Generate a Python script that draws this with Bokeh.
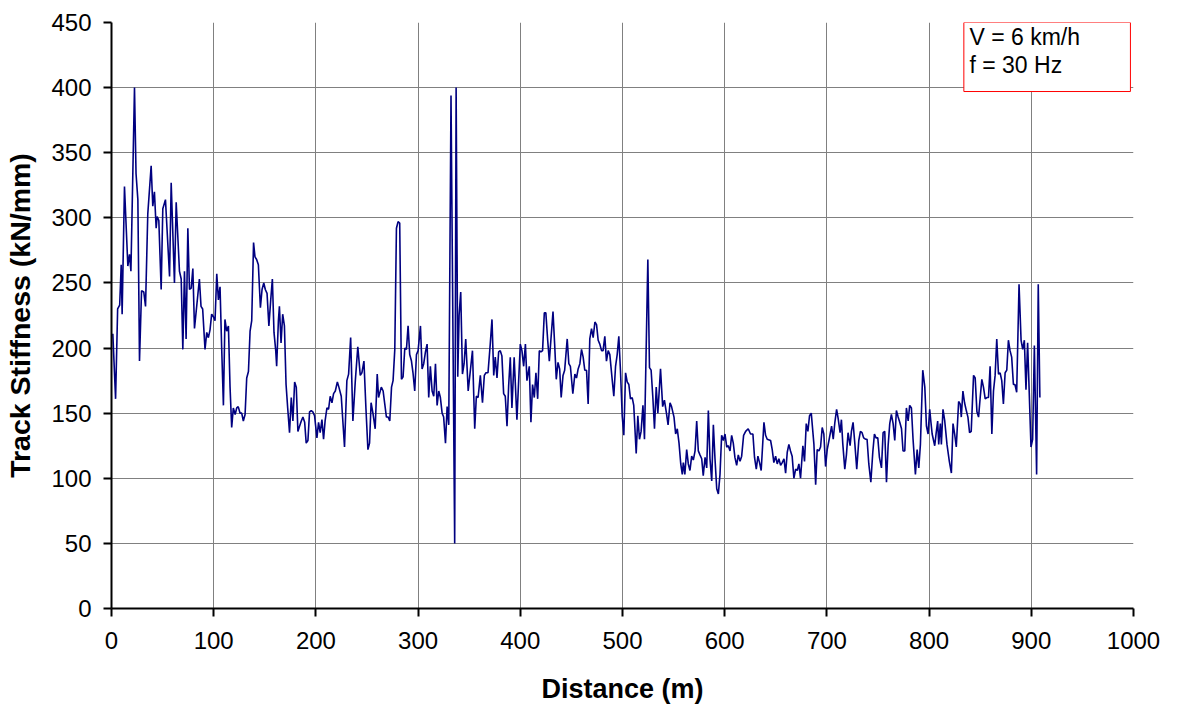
from bokeh.plotting import figure
from bokeh.models import Range1d, FixedTicker, BoxAnnotation, Label
from bokeh.embed import file_html
from bokeh.resources import INLINE

# Distance along track (m)
distance = [
    1.3, 4, 6, 8, 9.5, 10.4, 12.7, 16, 17.6, 19, 22.5, 24, 25.8, 27.4, 29.4, 31.6, 33.3, 35.5, 38.8, 40.4,
    42, 43.7, 44.7, 46.3, 48.6, 50.2, 52.8, 56.8, 58.4, 61.6, 63.3, 66.5, 68.2, 69.8, 71.4, 73, 74.7, 76.3,
    78, 79.6, 81.2, 86,
    87.6, 89.2, 91.5, 93.2, 94.8, 96.4, 98, 99.7, 101.3, 103, 104.6, 106.2, 107.8, 109.5, 111, 112.7, 114.4,
    116, 117.6, 119.2, 121, 122.5, 124, 125.8, 127.4, 129, 130.7, 132.3, 134, 135.6, 137.2, 139, 140.4, 142,
    143.7, 145.7, 147.3, 149, 150.5, 152.2, 154, 155.8, 157.4, 159, 160.7, 161.6, 163.3, 164.3, 165.9, 167.5,
    169.2, 170.8, 172.4,
    174.2, 175.9, 177.5, 179.2, 180.8, 182.4, 184, 185.7, 187.3, 189, 190.5, 192.2, 193.8, 195.4, 197, 198.7,
    201, 202.6, 204.2, 205.9, 207.5, 209, 210.8, 212.4, 214, 215.7, 217.3, 219, 221, 222.5, 224.8, 228, 230.3,
    232, 234, 236.2, 238.5, 241, 243.4, 245, 247, 249, 250.9, 252.5, 254, 255.8, 258, 260, 261.3,
    264, 265.8, 267.4, 269, 270.7, 272.3, 274, 275.5, 277.2, 278.8, 280.4, 282, 283.7, 285.3, 287, 288.6,
    290.2, 291.8, 293.5, 295, 296.7, 298.4, 300, 302.3, 303.9, 305.5, 307.2, 308.8, 310.4, 312, 313.7, 315.3,
    317, 318.6, 320.2, 321.8, 323.5, 325, 326.8, 328.4, 330, 332.2, 335.8, 337.2, 338.8, 340.1, 341.7, 343.4,
    345, 346.6, 349, 350.5, 353.2, 355.4, 357, 358.7,
    360.9, 363, 364.8, 366.4, 368.4, 370.6, 372.3, 374, 375.5, 377.2, 378.8, 380.4, 382, 383.7, 385.3, 387,
    388.6, 390.2, 391.8, 394, 396.7, 398.4, 400, 401.6, 403.3, 405, 406.5, 408.8, 410.4, 412, 413.7, 415.3,
    417, 418.6, 420.2, 421.8, 423.5, 425, 426.8, 428.4, 430, 432, 433.6, 435.2, 436.9, 438.5, 440, 441.8,
    443.4,
    445.9, 447.5, 449, 451.4, 453.4, 455, 456.6, 458.3, 459.9, 461.5, 463.1, 464.8, 466.4, 468, 469.7, 471.3,
    473, 474.6, 476.2, 477.8, 479.5, 481, 482.7, 484.3, 486, 487.6, 490, 491.5, 493.2, 494.8, 496.4, 498,
    499.7, 501.3, 503, 504.6, 506.2, 507.8, 509.5, 511, 513.4, 515, 516.6, 518.2, 520, 521.5, 524.8, 526.4,
    528, 529.7, 531.3, 533, 534.6, 537.2,
    539.3, 541, 543, 544.6, 546.5, 548, 550.4, 552, 553.6, 555.3, 557, 558.5, 559.5, 561, 562.8, 564.4, 566,
    567.7, 569.3, 571, 572.6, 574.2, 575.8, 577.5, 579, 580.8, 582.4, 584, 585.6, 587.3, 588.9, 590.5, 592.2,
    593.8, 595.4, 597, 598.7, 600.3, 602, 603.5, 605.2, 606.8, 608.4, 610, 611.7, 613.3, 615,
    616.6, 618.5, 620.5, 623, 625.3, 627.6, 629.2, 630.9, 632.5, 634.1, 635.7, 638.4, 640, 641.6, 644.9,
    646.5, 648.1, 649.8, 651.4, 653, 654.7, 656.3, 658, 659.6, 661.2, 662.8, 664.4, 666, 667.7, 669.4, 671,
    672.6, 674.2, 676.5, 678.1, 679.8, 681.4, 683, 684.7, 687.3, 689, 690.5, 692.2, 693.8, 695.4, 697, 698.7,
    700.3, 702, 704.6, 706.2, 707.8, 709.5,
    711, 712.9, 714.2, 715.5, 717.5, 719.1, 720.7, 722.7, 724, 725.6, 727.3, 729.2, 731.2, 732.8, 734.4, 736,
    737.7, 739.3, 741, 743, 744.9, 746.5, 748.1, 749.8, 751.4, 753.4, 755, 756.6, 758.3, 759.9, 761.5, 763.1,
    764.8, 766.4, 768, 769.7, 771.3, 773, 774.5, 776.2, 777.8, 779.5, 781, 782.7, 784.3, 786.6, 788.3, 789.9,
    791.5, 793.8, 795.8, 797.4, 799,
    800.6, 801.8, 803, 805.5, 807.1, 808.4, 809.4, 811, 812, 813.6, 815.3, 817.5, 819.8, 821.8, 823.4, 825,
    826.6, 828.9, 830.5, 831.5, 833.1, 834.7, 836.4, 838, 839.6, 841.2, 843.5, 845.1, 846.8, 848.4, 850,
    851.6, 853.2, 854.9, 856.5, 858.1, 859.7, 861.4, 863, 864.6, 866.2, 867.9, 869.5, 871.1, 872.7, 874.4,
    876, 877.6, 879.2, 880.8, 882.5, 884, 885.7, 888, 890, 891.6, 893.2, 894.8, 896.4, 899.7, 901.3, 903,
    905.2, 906.8, 908.4,
]

# Track stiffness (kN/mm)
stiffness = [
    211, 161, 230, 233, 264, 226, 324, 263, 272, 259, 400, 334, 314, 190, 244, 243, 232, 303, 340, 309,
    320, 292, 301, 298, 245, 307, 314, 255, 327, 250, 312, 259, 253, 199, 259, 207, 292, 245,
    246, 261, 215, 253,
    232, 230, 199, 212, 208, 214, 226, 224, 221, 257, 237, 247, 200, 156, 222, 213, 217,
    170, 139, 154, 149, 154, 155, 150, 150, 144, 149, 177, 182, 213, 221, 281, 270, 268,
    264, 231, 245, 250, 245, 242, 217, 237, 253, 212, 198, 186, 221, 232, 204, 226,
    217, 172, 154,
    135, 162, 144, 174, 170, 136, 140, 144, 147, 143, 127, 129, 151, 152, 151, 148,
    131, 143, 135, 145, 130, 144, 154, 153, 163, 158, 165, 167, 174, 170, 163, 124, 175,
    180, 208, 144, 174, 201, 179, 181, 190, 153, 122, 127, 158, 150, 138, 180, 162,
    170, 167, 157, 147, 147, 144, 170, 175, 199, 292, 297, 296, 176, 178, 200, 199,
    217, 195, 190, 181, 167, 195, 198, 217, 184, 188, 197, 203, 162, 186, 167, 163,
    188, 156, 167, 162, 150, 147, 127, 155, 141, 394, 50, 400, 178, 225, 243, 180,
    188, 207, 167, 178, 198, 138, 163, 162,
    179, 158, 179, 181, 181, 203, 222, 179, 193, 177, 197, 198, 194, 165, 163, 140,
    171, 193, 154, 193, 145, 175, 203, 198, 186, 203, 175, 186, 143, 172, 162, 181,
    161, 198, 197, 198, 227, 227, 206, 190, 207, 228, 203, 176, 189, 184, 162, 179,
    183,
    207, 188, 186, 165, 180, 177, 184, 188, 199, 193, 183, 183, 157, 207, 215, 208,
    220, 218, 206, 203, 198, 198, 209, 190, 198, 195, 175, 163, 186, 195, 209, 183,
    148, 133, 181, 174, 172, 161, 162, 156, 119, 148, 130, 136, 156, 130, 268, 185,
    183, 162, 138, 170, 150, 184,
    155, 160, 150, 141, 158, 155, 147, 134, 138, 127, 111, 103, 112, 103, 122, 111, 106,
    117, 114, 121, 144, 121, 118, 115, 102, 116, 108, 152, 115, 98, 141, 115, 92,
    88, 103, 133, 129, 134, 124, 125, 121, 133, 127, 116, 110, 118, 113,
    117, 133, 136, 138, 134, 134, 116, 107, 117, 112, 106, 143, 133, 130, 129,
    122, 112, 117, 111, 115, 110, 112, 115, 104, 120, 126, 121, 117, 100, 107, 106,
    111, 100, 125, 113, 142, 136, 148, 150, 126, 95, 122, 121, 124, 139, 134, 109,
    122, 129, 140, 130, 143, 153,
    146, 135, 145, 127, 107, 118, 135, 125, 136, 143, 127, 107, 129, 136, 135, 131,
    130, 130, 111, 97, 120, 134, 131, 131, 116, 108, 135, 136, 97, 125, 142, 149,
    142, 129, 152, 147, 143, 138, 121, 121, 154, 144, 156, 154, 130, 103, 122, 108,
    126, 183, 170, 140, 134,
    153, 143, 134, 125, 136, 144, 126, 142, 126, 153, 144, 126, 113, 104, 142, 134,
    124, 159, 157, 147, 167, 158, 152, 147, 135, 136, 179, 177, 151, 147, 162,
    176, 170, 161, 162, 162, 186, 134, 167, 179, 207, 180, 181, 175, 157, 181,
    183, 206, 198, 193, 172, 172, 166, 249, 206, 199, 206, 168, 204, 124, 130, 202,
    103, 249, 162,
]

x_ticks = [0, 100, 200, 300, 400, 500, 600, 700, 800, 900, 1000]
y_ticks = [0, 50, 100, 150, 200, 250, 300, 350, 400, 450]
legend_lines = ["V = 6 km/h", "f = 30 Hz"]

FONT = "Liberation Sans"

p = figure(width=1178, height=707, output_backend="svg", toolbar_location=None,
           x_range=Range1d(0, 1000), y_range=Range1d(0, 450),
           min_border_left=111, min_border_right=45, min_border_top=22, min_border_bottom=99,
           background_fill_color="white", border_fill_color="white")
p.outline_line_color = None

p.line(distance, stiffness, line_color="#000080", line_width=1.6)

p.xaxis.ticker = FixedTicker(ticks=x_ticks)
p.yaxis.ticker = FixedTicker(ticks=y_ticks)
p.xgrid.ticker = FixedTicker(ticks=x_ticks)
p.ygrid.ticker = FixedTicker(ticks=y_ticks)

for grid in (p.xgrid, p.ygrid):
    grid.grid_line_color = "#808080"
    grid.grid_line_width = 1

for ax in (p.xaxis, p.yaxis):
    ax.axis_line_color = "black"
    ax.axis_line_width = 2
    ax.major_tick_line_color = "black"
    ax.major_tick_line_width = 2
    ax.major_tick_out = 8
    ax.major_tick_in = 0
    ax.minor_tick_line_color = None
    ax.major_label_text_font = FONT
    ax.major_label_text_font_size = "24px"
    ax.major_label_text_color = "black"
    ax.axis_label_text_font = FONT
    ax.axis_label_text_font_style = "bold"
    ax.axis_label_text_color = "black"

p.xaxis.axis_label = "Distance (m)"
p.yaxis.axis_label = "Track Stiffness (kN/mm)"
p.xaxis.axis_label_text_font_size = "27px"
p.yaxis.axis_label_text_font_size = "28.5px"
p.xaxis.major_label_standoff = 15
p.yaxis.major_label_standoff = 12
p.xaxis.axis_label_standoff = 22
p.yaxis.axis_label_standoff = 12

box = BoxAnnotation(left=834, right=997, bottom=397, top=450,
                    fill_color="white", fill_alpha=1.0,
                    line_color="#ff0000", line_alpha=1.0, line_width=1)
p.add_layout(box)

for i, txt in enumerate(legend_lines):
    p.add_layout(Label(x=839.5, y=439 - i * 21.5, text=txt,
                       text_font=FONT, text_font_size="23px",
                       text_color="black", text_baseline="alphabetic"))

open("out.html", "w").write(file_html(p, INLINE))
